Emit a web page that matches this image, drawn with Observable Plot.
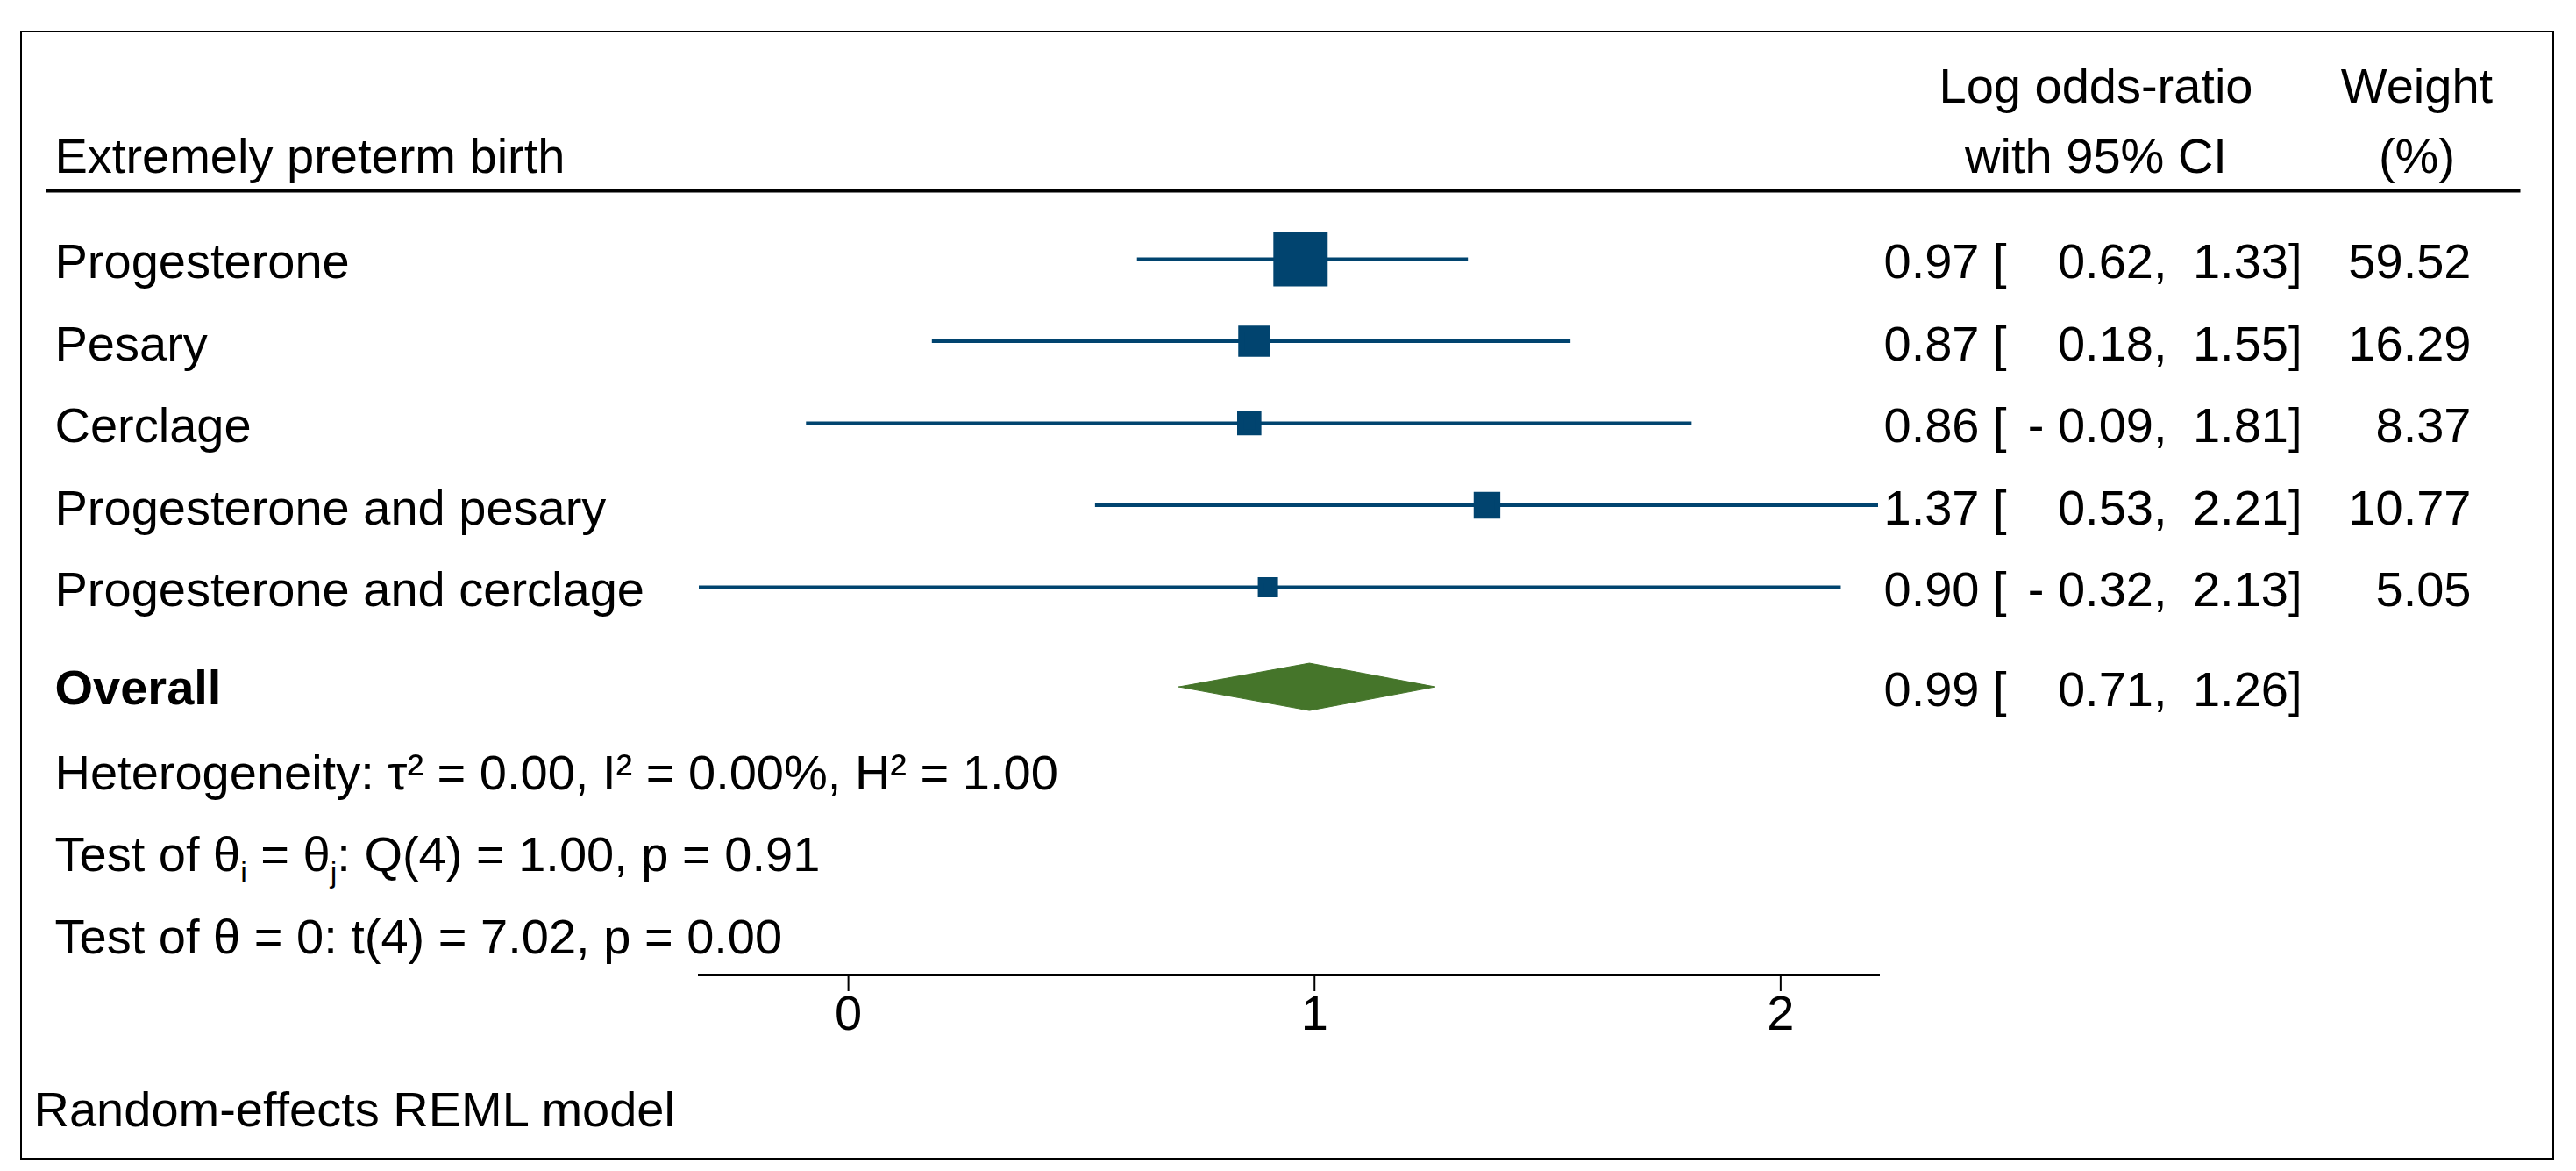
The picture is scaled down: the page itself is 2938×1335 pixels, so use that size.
<!DOCTYPE html>
<html>
<head>
<meta charset="utf-8">
<script src="https://cdn.jsdelivr.net/npm/d3@7"></script>
<script src="https://cdn.jsdelivr.net/npm/@observablehq/plot@0.6"></script>
<style>
  html, body { margin: 0; padding: 0; background: #ffffff; }
  #box { position: absolute; left: 23px; top: 35px; width: 2890px; height: 1287px; border: 2px solid #000; box-sizing: border-box; }
  #chart { position: absolute; left: 0; top: 0; }
</style>
</head>
<body>
<div id="box"></div>
<div id="chart"></div>
<script>
// ---- data ----
const title = "Extremely preterm birth";
const studies = ["Progesterone", "Pesary", "Cerclage", "Progesterone and pesary", "Progesterone and cerclage"];
const estimates = [0.97, 0.87, 0.86, 1.37, 0.90];
const lower = [0.62, 0.18, -0.09, 0.53, -0.32];
const upper = [1.33, 1.55, 1.81, 2.21, 2.13];
const weights = [59.52, 16.29, 8.37, 10.77, 5.05];
const overallLabel = "Overall";
const overallValues = [0.99, 0.71, 1.26]; // estimate, lower, upper
const statsLines = [
  "Heterogeneity: τ² = 0.00, I² = 0.00%, H² = 1.00",
  "Test of θ_i = θ_j: Q(4) = 1.00, p = 0.91",
  "Test of θ = 0: t(4) = 7.02, p = 0.00"
];
const ciHeader = ["Log odds-ratio", "with 95% CI"];
const weightHeader = ["Weight", "(%)"];
const caption = "Random-effects REML model";
const xTicks = [0, 1, 2];

// ---- styles ----
const navy = "#01446f";
const green = "#45752a";
const FS = 56;
const overallGap = 0.22;       // extra row spacing before the overall row
const diamondHalf = 27 / 93.5; // diamond half height in row units

// ---- tables ----
const rows = studies.map((s, i) => ({label: s, est: estimates[i], lo: lower[i], hi: upper[i], w: weights[i], pos: i}));
const ovr = {label: overallLabel, est: overallValues[0], lo: overallValues[1], hi: overallValues[2], pos: studies.length + overallGap};
const tableRows = [...rows, ovr];
const stats = statsLines.map((t, i) => ({text: t, pos: studies.length + 0.25 + 1 + i}));
const diamond = [
  {x: ovr.lo, y1: ovr.pos, y2: ovr.pos},
  {x: ovr.est, y1: ovr.pos - diamondHalf, y2: ovr.pos + diamondHalf},
  {x: ovr.hi, y1: ovr.pos, y2: ovr.pos}
];
const fmt = v => v.toFixed(2);
const fmtLo = v => (v < 0 ? "- " + fmt(Math.abs(v)) : fmt(v)) + ",";
const lastPos = stats[stats.length - 1].pos;

const txt = {fill: "#000", lineAnchor: "middle"};

const plot = Plot.plot({
  width: 2938,
  height: 1335,
  marginLeft: 797,
  marginRight: 796,
  marginTop: 217,
  marginBottom: 224,
  style: {fontFamily: "'Liberation Sans', Arial, Helvetica, sans-serif", fontSize: FS + "px", color: "#000", background: "transparent"},
  x: {domain: [d3.min(lower), d3.max(upper)], axis: null},
  y: {domain: [0, lastPos], range: [295, 295 + lastPos * 93.5], axis: null},
  r: {domain: [0, d3.max(weights)], range: [0, 31]},
  marks: [
    Plot.frame({anchor: "top", stroke: "#000", strokeWidth: 4, insetLeft: -743, insetRight: -730}),
    Plot.frame({anchor: "bottom", stroke: "#000", strokeWidth: 3}),
    Plot.axisX({ticks: xTicks, tickFormat: d3.format("d"), tickSize: 19, tickPadding: 4, fontSize: FS, strokeWidth: 2, label: null, fill: "#000", stroke: "#000"}),
    Plot.ruleY(rows, {y: "pos", x1: "lo", x2: "hi", stroke: navy, strokeWidth: 4}),
    Plot.dot(rows, {x: "est", y: "pos", r: "w", symbol: "square", fill: navy, stroke: navy, strokeWidth: 7, strokeLinejoin: "miter"}),
    Plot.areaY(diamond, {x: "x", y1: "y1", y2: "y2", fill: green, stroke: green, strokeWidth: 1}),
    // left labels
    Plot.text(rows, {...txt, y: "pos", text: "label", frameAnchor: "left", textAnchor: "start", dx: -735, dy: 4}),
    Plot.text([ovr], {...txt, y: "pos", text: "label", frameAnchor: "left", textAnchor: "start", dx: -735, dy: 2, fontWeight: "bold"}),
    Plot.text(stats, {...txt, y: "pos", text: "text", frameAnchor: "left", textAnchor: "start", dx: -735, dy: 2}),
    // right columns
    Plot.text(tableRows, {...txt, y: "pos", text: d => fmt(d.est) + " [", frameAnchor: "right", textAnchor: "start", dx: 6, dy: 4}),
    Plot.text(tableRows, {...txt, y: "pos", text: d => fmtLo(d.lo), frameAnchor: "right", textAnchor: "end", dx: 329, dy: 4}),
    Plot.text(tableRows, {...txt, y: "pos", text: d => fmt(d.hi) + "]", frameAnchor: "right", textAnchor: "end", dx: 483, dy: 4}),
    Plot.text(rows, {...txt, y: "pos", text: d => fmt(d.w), frameAnchor: "right", textAnchor: "end", dx: 676, dy: 4}),
    // headers
    Plot.text([title], {...txt, text: d => d, frameAnchor: "top-left", textAnchor: "start", dx: -735, dy: -38}),
    Plot.text([ciHeader[0]], {...txt, text: d => d, frameAnchor: "top-right", textAnchor: "middle", dx: 248, dy: -118}),
    Plot.text([ciHeader[1]], {...txt, text: d => d, frameAnchor: "top-right", textAnchor: "middle", dx: 248, dy: -38}),
    Plot.text([weightHeader[0]], {...txt, text: d => d, frameAnchor: "top-right", textAnchor: "middle", dx: 614, dy: -118}),
    Plot.text([weightHeader[1]], {...txt, text: d => d, frameAnchor: "top-right", textAnchor: "middle", dx: 614, dy: -38}),
    // caption
    Plot.text([caption], {...txt, text: d => d, frameAnchor: "bottom-left", textAnchor: "start", dx: -759, dy: 155})
  ]
});

// subscripts (θ_i, θ_j) as real tspans
plot.querySelectorAll("text").forEach(t => {
  const s = t.textContent;
  if (!s.includes("_")) return;
  const parts = s.split(/_(\w)/);
  t.textContent = "";
  parts.forEach((p, k) => {
    const ts = document.createElementNS("http://www.w3.org/2000/svg", "tspan");
    ts.textContent = p;
    if (k % 2 === 1) { ts.setAttribute("font-size", "34"); ts.setAttribute("dy", "13"); }
    else if (k > 0) { ts.setAttribute("dy", "-13"); }
    t.appendChild(ts);
  });
});

document.getElementById("chart").appendChild(plot);
</script>
</body>
</html>
